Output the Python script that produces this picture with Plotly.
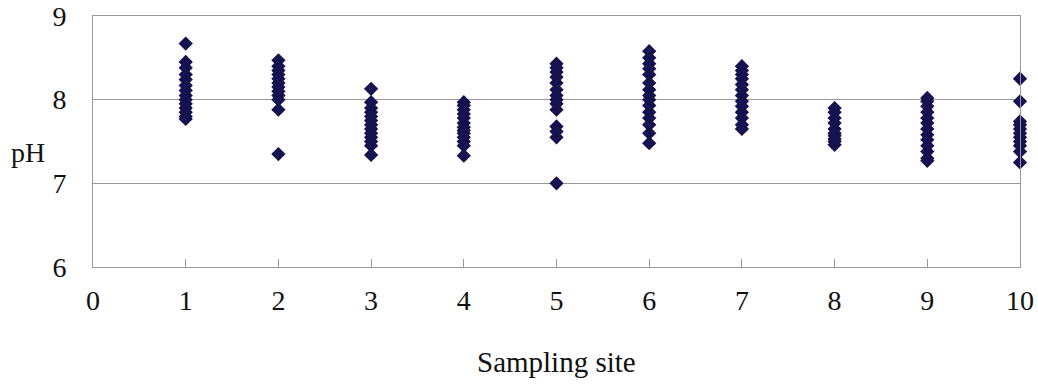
import plotly.graph_objects as go

site1 = [8.67, 8.45, 8.38, 8.30, 8.24, 8.17, 8.11, 8.05, 8.00, 7.95, 7.90, 7.85, 7.80, 7.77]
site2 = [8.47, 8.40, 8.35, 8.30, 8.25, 8.20, 8.15, 8.10, 8.05, 8.00, 7.88, 7.35]
site3 = [8.13, 7.97, 7.90, 7.85, 7.80, 7.75, 7.70, 7.65, 7.60, 7.55, 7.50, 7.45, 7.34]
site4 = [7.97, 7.93, 7.88, 7.83, 7.78, 7.72, 7.67, 7.63, 7.60, 7.55, 7.50, 7.45, 7.33]
site5 = [8.43, 8.38, 8.33, 8.27, 8.20, 8.12, 8.05, 8.00, 7.95, 7.88, 7.68, 7.62, 7.55, 7.00]
site6 = [8.58, 8.50, 8.43, 8.37, 8.30, 8.20, 8.12, 8.05, 8.00, 7.93, 7.85, 7.78, 7.70, 7.60, 7.48]
site7 = [8.40, 8.35, 8.30, 8.25, 8.18, 8.12, 8.05, 7.98, 7.92, 7.85, 7.78, 7.70, 7.65]
site8 = [7.90, 7.85, 7.78, 7.72, 7.65, 7.60, 7.57, 7.53, 7.50, 7.46]
site9 = [8.02, 7.98, 7.92, 7.85, 7.78, 7.72, 7.65, 7.58, 7.52, 7.45, 7.38, 7.30, 7.27]
site10 = [8.25, 7.98, 7.74, 7.70, 7.65, 7.60, 7.55, 7.50, 7.45, 7.38, 7.25]

sites = [1, 2, 3, 4, 5, 6, 7, 8, 9, 10]
ph_values = [site1, site2, site3, site4, site5, site6, site7, site8, site9, site10]

xs, ys = [], []
for s, vals in zip(sites, ph_values):
    xs += [s] * len(vals)
    ys += vals

FONT = "Liberation Serif"
fig = go.Figure(go.Scatter(
    x=xs, y=ys, mode="markers",
    marker=dict(symbol="diamond", size=11, color="#16124f", line=dict(width=0)),
    showlegend=False, cliponaxis=False,
))

fig.update_layout(
    width=1038, height=384,
    margin=dict(l=93, r=18, t=16, b=117),
    paper_bgcolor="white", plot_bgcolor="white",
    font=dict(family=FONT, size=28, color="#111"),
    xaxis=dict(
        range=[0, 10], tickmode="array", tickvals=list(range(0, 11)),
        showgrid=False, zeroline=False, automargin=False,
        showline=True, linecolor="#999", linewidth=1, mirror=True,
        ticks="inside", ticklen=8, tickcolor="#999",
        ticklabelstandoff=8,
        tickfont=dict(family=FONT, size=28, color="#111"),
    ),
    yaxis=dict(
        range=[6, 9], tickmode="array", tickvals=[6, 7, 8, 9],
        showgrid=True, gridcolor="#999", gridwidth=1, zeroline=False, automargin=False,
        showline=True, linecolor="#999", linewidth=1, mirror=True,
        ticks="", ticklabelstandoff=20,
        tickfont=dict(family=FONT, size=28, color="#111"),
    ),
    annotations=[
        dict(text="Sampling site", xref="paper", yref="paper", x=0.5, y=-0.378,
             xanchor="center", yanchor="middle", showarrow=False,
             font=dict(family=FONT, size=29, color="#111")),
        dict(text="pH", xref="paper", yref="paper", x=-0.070, y=0.458,
             xanchor="center", yanchor="middle", showarrow=False,
             font=dict(family=FONT, size=28, color="#111")),
    ],
)

fig.write_html("out.html")
